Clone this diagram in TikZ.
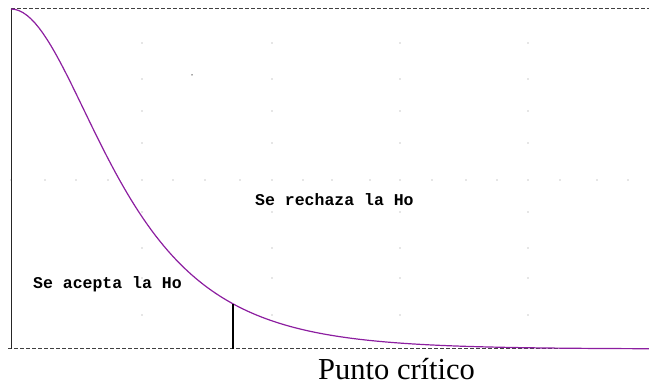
\documentclass[tikz,border=0pt]{standalone}
\usepackage{fontspec}
\setmainfont{Liberation Serif}
\newfontfamily\regionfont{Liberation Mono}
\definecolor{curvepurple}{RGB}{140,30,160}
\tikzset{
  region/.style={font=\regionfont\bfseries\fontsize{16.5}{19}\selectfont, inner sep=0pt, anchor=base west},
  griddot/.style={circle, fill=black!20, inner sep=0pt, minimum size=1.6pt},
  axisline/.style={black!75, line width=1pt, dash pattern=on 4pt off 2pt}
}
\begin{document}
\begin{tikzpicture}[x=1pt,y=-1pt]
    \useasboundingbox (0,0) rectangle (649,387);

    % faint grid dots
    \foreach \gx in {142,272,400,528}
      \foreach \gy in {43,79,111,143,212,248,278,315}
        \node [griddot] at (\gx,\gy) {};
    \foreach \gx in {11,45,76,108,142,173,205,240,272,303,332,370,400,432,466,497,528,560,597,628}
      \node [griddot] at (\gx,180) {};
    \node [circle, fill=black!70, inner sep=0pt, minimum size=1.5pt] (speck) at (192,75) {};

    % frame
    \coordinate (topleft) at (11,9);
    \coordinate (topright) at (649,9);
    \coordinate (botleft) at (8,349);
    \coordinate (botright) at (649,349);
    \coordinate (axisfoot) at (11,349);
    \draw [axisline] (topleft) -- (topright);
    \draw [axisline] (botleft) -- (botright);
    \draw [black!85, line width=1pt] (topleft) -- (axisfoot);

    % density curve
    \draw [curvepurple, line width=1.2pt] plot [domain=0:638, samples=160]
      ({11+\x}, {349-340*2/(exp(\x/82)+exp(-\x/82))});

    % critical point
    \coordinate (crit) at (233,{349-340*2/(exp(222/82)+exp(-222/82))});
    \coordinate (critbase) at (233,349);
    \draw [black, line width=1.3pt] (crit) -- (critbase);

    % labels
    \node [region] (accept) at (33,289) {Se acepta la Ho};
    \node [region] (reject) at (255,206) {Se rechaza la Ho};
    \node [font=\fontsize{30.5}{34}\selectfont, inner sep=0pt, anchor=base west] (critlabel) at (318,380) {Punto crítico};
\end{tikzpicture}
\end{document}
